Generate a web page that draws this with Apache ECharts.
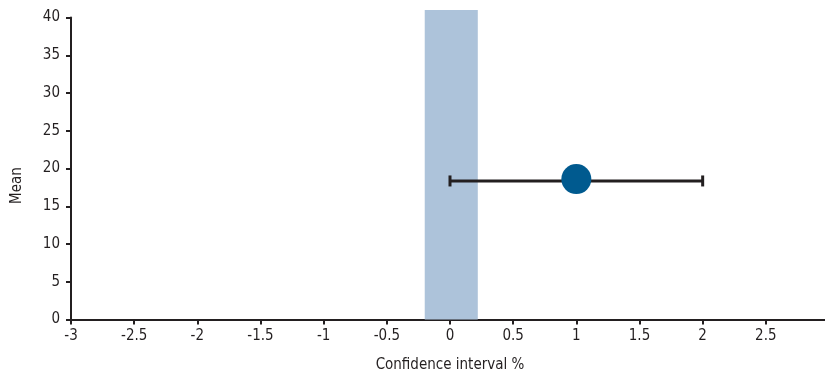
<!DOCTYPE html>
<html><head><meta charset="utf-8">
<script src="https://cdn.jsdelivr.net/npm/echarts@6/dist/echarts.min.js"></script>
<style>html,body{margin:0;padding:0;background:#fff}#c{width:825px;height:376px}</style>
</head><body><div id="c"></div>
<script>
// Data
var pointX = [1];
var pointY = [18.6];
var errLow = [0];
var errHigh = [2];
var errY = [18.35];
var bandLow = [-0.2];
var bandHigh = [0.22];
var bandBottom = [0];
var bandTop = [41];
var xTicks = [-3, -2.5, -2, -1.5, -1, -0.5, 0, 0.5, 1, 1.5, 2, 2.5, 3];
var yTicks = [0, 5, 10, 15, 20, 25, 30, 35, 40];

var FONT = "'Liberation Sans Narrow','DejaVu Sans Condensed',sans-serif";
var AX = '#231f20';
var chart = echarts.init(document.getElementById('c'));
chart.setOption({
  animation: false,
  grid: {left: 71, right: -4, top: 17.5, bottom: 56.5, containLabel: false, outerBoundsMode: 'none'},
  xAxis: {
    type: 'value', min: xTicks[0], max: xTicks[xTicks.length-1], interval: 0.5,
    name: 'Confidence interval %', nameLocation: 'middle', nameGap: 38,
    nameTextStyle: {fontFamily: FONT, fontSize: 15, color: AX},
    axisLine: {onZero: false, lineStyle: {color: AX, width: 2}},
    axisTick: {show: true, length: 5, lineStyle: {color: AX, width: 2}},
    axisLabel: {fontFamily: FONT, fontSize: 15, color: AX, margin: 9},
    splitLine: {show: false}
  },
  yAxis: {
    type: 'value', min: yTicks[0], max: yTicks[yTicks.length-1], interval: 5,
    name: 'Mean', nameLocation: 'middle', nameGap: 46,
    nameTextStyle: {fontFamily: FONT, fontSize: 15, color: AX, padding: [0, 34, 0, 0]},
    axisLine: {show: true, onZero: false, lineStyle: {color: AX, width: 2}},
    axisTick: {show: true, length: 5, lineStyle: {color: AX, width: 2}},
    axisLabel: {fontFamily: FONT, fontSize: 15, color: AX, margin: 11},
    splitLine: {show: false}
  },
  series: [
    {
      type: 'custom', z: 1, clip: false,
      data: bandLow.map(function(v, i){ return [v, bandHigh[i], bandBottom[i], bandTop[i]]; }),
      renderItem: function(params, api){
        var p1 = api.coord([api.value(0), api.value(3)]);
        var p2 = api.coord([api.value(1), api.value(2)]);
        return {type: 'rect', shape: {x: p1[0], y: p1[1], width: p2[0]-p1[0], height: p2[1]-p1[1]},
                style: {fill: '#adc3da'}};
      }
    },
    {
      type: 'custom', z: 2, clip: false,
      data: errLow.map(function(v, i){ return [v, errHigh[i], errY[i]]; }),
      renderItem: function(params, api){
        var a = api.coord([api.value(0), api.value(2)]);
        var b = api.coord([api.value(1), api.value(2)]);
        var h = 5.5;
        var st = {stroke: AX, lineWidth: 3};
        return {type: 'group', children: [
          {type: 'line', shape: {x1: a[0], y1: a[1], x2: b[0], y2: b[1]}, style: st},
          {type: 'line', shape: {x1: a[0], y1: a[1]-h, x2: a[0], y2: a[1]+h}, style: st},
          {type: 'line', shape: {x1: b[0], y1: b[1]-h, x2: b[0], y2: b[1]+h}, style: st}
        ]};
      }
    },
    {
      type: 'scatter', z: 3,
      data: pointX.map(function(v, i){ return [v, pointY[i]]; }),
      symbol: 'circle', symbolSize: 30,
      itemStyle: {color: '#005a8f', opacity: 1}
    }
  ]
});
</script></body></html>
